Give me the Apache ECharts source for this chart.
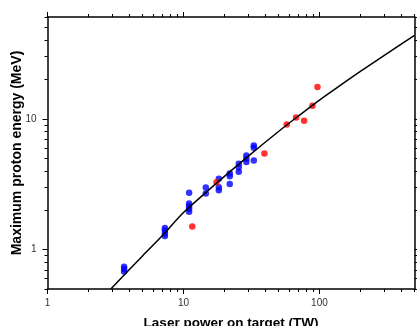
<!DOCTYPE html>
<html>
<head>
<meta charset="utf-8">
<script src="https://cdn.jsdelivr.net/npm/echarts@6/dist/echarts.min.js"></script>
<style>html,body{margin:0;padding:0;background:#fff}#c{width:417px;height:326px}</style>
</head>
<body>
<div id="c"></div>
<script>
// Blue data (power TW, max proton energy MeV)
const blueX = [3.66,3.66,3.66, 7.3,7.3,7.3,7.3, 11,11,11,11,11, 14.6,14.6, 18.2,18.2,18.2, 21.9,21.9,21.9, 25.5,25.5,25.5, 29,29,29, 32.9,32.9,32.9];
const blueY = [0.74,0.71,0.68, 1.46,1.40,1.33,1.27, 2.72,2.25,2.15,2.05,1.95, 2.99,2.69, 3.48,3.0,2.84, 3.82,3.63,3.17, 4.53,4.26,3.94, 5.25,4.95,4.68, 6.25,6.0,4.8];
// Red data
const redX = [11.6, 17.5, 39.4, 57.5, 67.3, 77.1, 88.8, 96.7];
const redY = [1.5, 3.27, 5.44, 9.06, 10.25, 9.66, 12.6, 17.5];
// Fit curve
const curveX = [2.92, 4, 5, 7, 10, 15, 20, 30, 50, 70, 100, 150, 200, 300, 500];
const curveY = [0.5, 0.705, 0.895, 1.28, 1.92, 2.80, 3.63, 5.19, 8.0, 10.5, 13.9, 18.7, 23.0, 30.5, 43.5];
// Ticks
const xMajor = [1, 10, 100];
const xMinor = [2,3,4,5,6,7,8,9,20,30,40,50,60,70,80,90,200,300,400,500];
const yMajor = [1, 10];
const yMinor = [0.5,0.6,0.7,0.8,0.9,2,3,4,5,6,7,8,9,20,30,40,50,60];

const zip = (a, b) => a.map((v, i) => [v, b[i]]);
const FONT = 'Arial, "Liberation Sans", sans-serif';
const lineStyle = {color: '#000', width: 1.5};
const gridBox = {left: 47.5, right: 2.5, top: 17, bottom: 37, containLabel: false, outerBoundsMode: 'none'};
function xAx(grid, pos, ticks, len, withLabel, withLine) {
  const o = {
    gridIndex: grid,
    type: 'log', logBase: 10, min: 1, max: 500, position: pos,
    axisLine: {show: withLine, lineStyle: lineStyle},
    axisTick: {show: true, inside: false, length: len, customValues: ticks, lineStyle: {color: '#000', width: 1}},
    axisLabel: withLabel ? {show: true, customValues: xMajor, margin: 9, color: '#333', fontSize: 10, fontFamily: FONT} : {show: false},
    splitLine: {show: false}, minorTick: {show: false}
  };
  if (withLabel) {
    o.name = 'Laser power on target (TW)';
    o.nameLocation = 'middle';
    o.nameGap = 27;
    o.nameMoveOverlap = false;
    o.nameTextStyle = {fontWeight: 'bold', fontSize: 13.5, color: '#000', fontFamily: FONT};
  }
  return o;
}
function yAx(grid, pos, ticks, len, withLabel, withLine) {
  const o = {
    gridIndex: grid,
    type: 'log', logBase: 10, min: 0.5, max: 60, position: pos,
    axisLine: {show: withLine, lineStyle: lineStyle},
    axisTick: {show: true, inside: false, length: len, customValues: ticks, lineStyle: {color: '#000', width: 1}},
    axisLabel: withLabel ? {show: true, customValues: yMajor, margin: 11, color: '#333', fontSize: 10, fontFamily: FONT} : {show: false},
    splitLine: {show: false}, minorTick: {show: false}
  };
  if (withLabel) {
    o.name = 'Maximum proton energy (MeV)';
    o.nameLocation = 'middle';
    o.nameGap = 23;
    o.nameMoveOverlap = false;
    o.nameTextStyle = {fontWeight: 'bold', fontSize: 14, color: '#000', fontFamily: FONT};
  }
  return o;
}
const chart = echarts.init(document.getElementById('c'));
chart.setOption({
  animation: false,
  grid: [Object.assign({}, gridBox), Object.assign({}, gridBox)],
  xAxis: [
    xAx(0, 'bottom', xMajor, 5, true, true),
    xAx(0, 'top', xMajor, 5, false, true),
    xAx(1, 'bottom', xMinor, 3, false, false),
    xAx(1, 'top', xMinor, 3, false, false)
  ],
  yAxis: [
    yAx(0, 'left', yMajor, 5, true, true),
    yAx(0, 'right', yMajor, 5, false, true),
    yAx(1, 'left', yMinor, 3, false, false),
    yAx(1, 'right', yMinor, 3, false, false)
  ],
  series: [
    {type: 'scatter', xAxisIndex: 0, yAxisIndex: 0, data: zip(blueX, blueY), symbolSize: 6.5, itemStyle: {color: '#0000ff'}, z: 2},
    {type: 'scatter', xAxisIndex: 0, yAxisIndex: 0, data: zip(redX, redY), symbolSize: 6.5, itemStyle: {color: '#ff0000'}, z: 2},
    {type: 'line', xAxisIndex: 0, yAxisIndex: 0, data: zip(curveX, curveY), showSymbol: false, smooth: 0.3, lineStyle: {color: '#000', width: 1.5}, z: 3, clip: true}
  ]
});
</script>
</body>
</html>
